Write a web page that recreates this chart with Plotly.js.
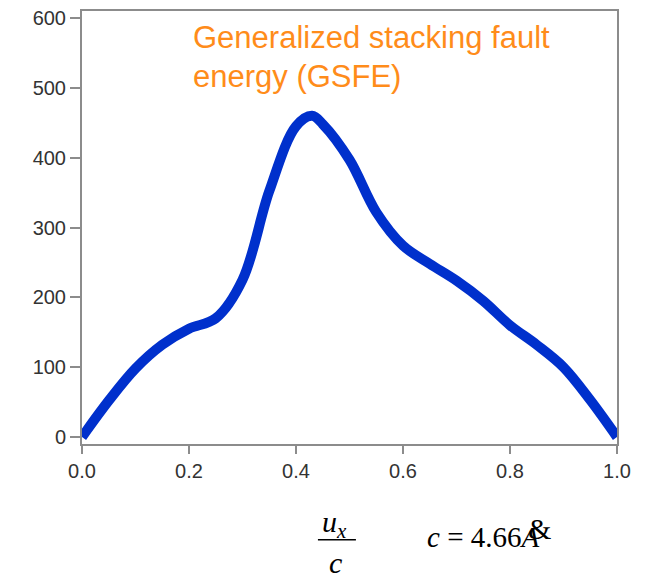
<!DOCTYPE html>
<html>
<head>
<meta charset="utf-8">
<script src="https://cdn.plot.ly/plotly-3.0.1.min.js"></script>
<style>html,body{margin:0;padding:0;background:#fff;}#chart{width:649px;height:578px;}</style>
</head>
<body>
<div id="chart"></div>
<script>
// Displacement ux/c
const displacement = [0, 0.05, 0.1, 0.15, 0.2, 0.25, 0.3, 0.35, 0.4, 0.43, 0.45, 0.5, 0.55, 0.6, 0.65, 0.7, 0.75, 0.8, 0.85, 0.9, 0.95, 1.0];
// GSFE energy
const gsfe = [0, 52, 98, 132, 155, 170, 225, 352, 445, 460, 448, 397, 322, 274, 248, 224, 195, 160, 132, 100, 53, 0];
const xTicks = [0, 0.2, 0.4, 0.6, 0.8, 1.0];
const xTickLabels = ['0.0', '0.2', '0.4', '0.6', '0.8', '1.0'];
const yTicks = [0, 100, 200, 300, 400, 500, 600];
const titleLine1 = 'Generalized stacking fault';
const titleLine2 = 'energy (GSFE)';

const trace = {
  x: displacement, y: gsfe, type: 'scatter', mode: 'lines',
  line: {color: '#0030cc', width: 10, shape: 'spline', smoothing: 1.0},
  hoverinfo: 'skip'
};
const axisCommon = {
  showline: true, linecolor: '#8c8c8c', linewidth: 2, mirror: true,
  showgrid: false, zeroline: false, ticks: 'outside', tickcolor: '#8c8c8c',
  tickwidth: 2, tickfont: {family: 'Liberation Sans, Arial, sans-serif', size: 20, color: '#333'}
};
const titleFont = {family: 'Liberation Sans, Arial, sans-serif', size: 31, color: '#ff8c1a'};
const mathFont = {family: 'Liberation Serif, Times New Roman, serif', size: 30, color: '#000'};
const layout = {
  width: 649, height: 578,
  margin: {l: 82, r: 32, t: 11, b: 134},
  paper_bgcolor: '#fff', plot_bgcolor: '#fff',
  showlegend: false,
  xaxis: Object.assign({}, axisCommon, {range: [0, 1], tickvals: xTicks, ticktext: xTickLabels, ticklen: 8}),
  yaxis: Object.assign({}, axisCommon, {range: [-10, 610], tickvals: yTicks, ticklen: 10}),
  annotations: [
    {text: titleLine1, xref: 'paper', yref: 'paper', x: 0.204, y: 0.984, xanchor: 'left', yanchor: 'top', align: 'left', showarrow: false, font: titleFont},
    {text: titleLine2, xref: 'paper', yref: 'paper', x: 0.204, y: 0.894, xanchor: 'left', yanchor: 'top', align: 'left', showarrow: false, font: titleFont},
    {text: '<i>u</i><sub><i>x</i></sub>', xref: 'paper', yref: 'paper', x: 0.472, y: -0.184, xanchor: 'center', yanchor: 'middle', showarrow: false, font: mathFont},
    {text: '<i>c</i>', xref: 'paper', yref: 'paper', x: 0.474, y: -0.274, xanchor: 'center', yanchor: 'middle', showarrow: false, font: mathFont},
    {text: '<i>c</i> = 4.66<i>A</i>', xref: 'paper', yref: 'paper', x: 0.641, y: -0.215, xanchor: 'left', yanchor: 'middle', showarrow: false,
     font: {family: 'Liberation Serif, Times New Roman, serif', size: 29, color: '#000'}},
    {text: '&', xref: 'paper', yref: 'paper', x: 0.855, y: -0.196, xanchor: 'center', yanchor: 'middle', showarrow: false,
     font: {family: 'Liberation Serif, Times New Roman, serif', size: 30, color: '#000'}}
  ],
  shapes: [
    {type: 'line', xref: 'paper', yref: 'paper', x0: 0.441, x1: 0.512, y0: -0.221, y1: -0.221, line: {color: '#000', width: 1.5}}
  ]
};
Plotly.newPlot('chart', [trace], layout, {displayModeBar: false, staticPlot: true});
</script>
</body>
</html>
